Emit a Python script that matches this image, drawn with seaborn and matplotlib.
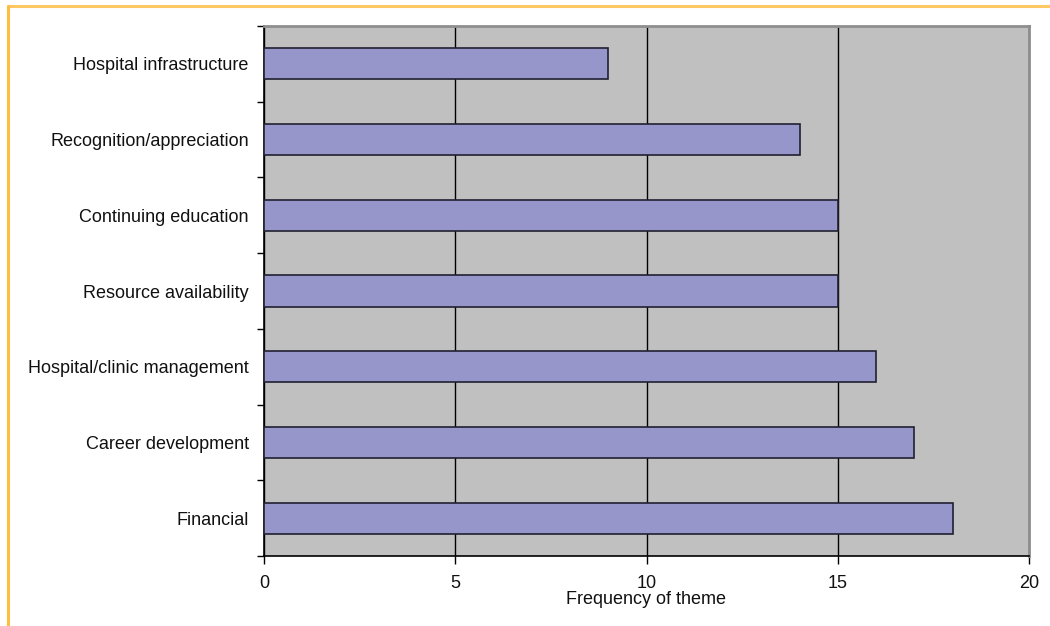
import matplotlib
matplotlib.use("Agg")
import matplotlib.pyplot as plt
from matplotlib.lines import Line2D
import seaborn as sns
import pandas as pd
import numpy as np

themes = [
    "Hospital infrastructure",
    "Recognition/appreciation",
    "Continuing education",
    "Resource availability",
    "Hospital/clinic management",
    "Career development",
    "Financial",
]
frequency = [9, 14, 15, 15, 16, 17, 18]
x_ticks = [0, 5, 10, 15, 20]

df = pd.DataFrame({"theme": themes, "frequency": frequency})

sns.set_style("white")
plt.rcParams["font.family"] = ["Liberation Sans", "DejaVu Sans"]

fig = plt.figure(figsize=(10.5, 6.26), dpi=100)
ax = fig.add_axes([264 / 1050, 1 - 556 / 626, (1029 - 264) / 1050, (556 - 26) / 626])
ax.set_facecolor("#C0C0C0")

sns.barplot(data=df, y="theme", x="frequency", orient="h", color="#9696CA",
            saturation=1, width=0.41, edgecolor="#202030", linewidth=1.2, ax=ax, zorder=3)

ax.set_xlim(0, 20)
ax.set_ylim(6.5, -0.5)
ax.set_xticks(x_ticks)
ax.set_xticklabels([str(t) for t in x_ticks], fontsize=13, color="#111111")
ax.grid(axis="x", color="black", linewidth=1, zorder=1)
ax.set_axisbelow(True)

# category separators as minor ticks on the y axis
ax.set_yticks(np.arange(-0.5, 7.0, 1.0), minor=True)
ax.tick_params(axis="y", which="major", left=True, length=0, pad=11, labelsize=13, labelcolor="#111111")
ax.tick_params(axis="y", which="minor", left=True, length=5, width=1, color="black", direction="out")
ax.tick_params(axis="x", which="major", bottom=True, length=6, width=1, color="black", direction="out", pad=8)

ax.set_ylabel("")
ax.set_xlabel("Frequency of theme", fontsize=13, color="#111111", labelpad=-1)

for side in ("left", "bottom"):
    ax.spines[side].set_color("black")
    ax.spines[side].set_linewidth(1.2)
for side in ("top", "right"):
    ax.spines[side].set_color("#8E8E8E")
    ax.spines[side].set_linewidth(2)

# orange frame along the top and left edges
fig.add_artist(Line2D([8 / 1050, 1], [1 - 6 / 626, 1 - 6 / 626], color="#FFC864", lw=2.2))
fig.add_artist(Line2D([8 / 1050, 8 / 1050], [0, 1 - 6 / 626], color="#FFBE40", lw=2.2))

fig.savefig("out.png", dpi=100)
